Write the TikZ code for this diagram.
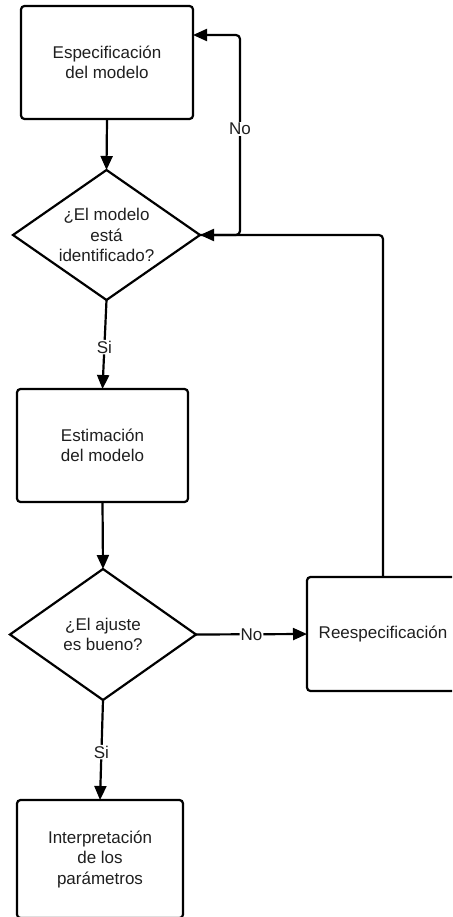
\documentclass[tikz,border=0pt]{standalone}
\usepackage{fontspec}
\setmainfont{Liberation Sans}
\usetikzlibrary{shapes.geometric,arrows.meta}
\begin{document}
\begin{tikzpicture}[x=1pt,y=-1pt,
  line width=2.2pt,
  every node/.style={font=\fontsize{17}{20.5}\selectfont, text=black!88},
  procbox/.style={draw, rounded corners=3.5pt, align=center, inner sep=0pt, outer sep=0pt},
  decision/.style={draw, diamond, aspect=1.44, align=center, inner sep=0pt, outer sep=0pt},
  arr/.style={-{Triangle[length=14pt,width=12pt]}, rounded corners=4pt},
  lbl/.style={fill=white, inner sep=1pt}
]
% page frame
\clip (0,0) rectangle (452,917);
\fill[white] (0,0) rectangle (452,917);

% process steps and decisions
\node[procbox, minimum width=172pt, minimum height=113pt] (spec) at (107,62.5) {Especificación\\del modelo};
\node[decision, minimum width=187pt, minimum height=130pt] (ident) at (106.5,235) {¿El modelo\\está\\identificado?};
\node[procbox, minimum width=171pt, minimum height=113pt] (estim) at (102.5,445.5) {Estimación\\del modelo};
\node[decision, minimum width=186pt, minimum height=131pt] (ajuste) at (103,634.5) {¿El ajuste\\es bueno?};
\node[procbox, minimum width=152pt, minimum height=114pt] (reesp) at (383,634) {Reespecificación};
\node[procbox, minimum width=166pt, minimum height=118pt] (interp) at (100,859) {Interpretación\\de los\\parámetros};

% connectors
\coordinate (looptop) at (240,35);
\draw[arr] (spec.south) -- (ident.north);
\draw[arr] (ident.east) -| (looptop) -- (spec.east |- looptop);
\node[lbl] (no1) at (240,129) {No};
\draw[arr] (reesp.north) |- (ident.east);
\draw[arr] (ident.south) -- node[lbl, pos=0.53] (si1) {Si} (estim.north);
\draw[arr] (estim.south) -- (ajuste.north);
\draw[arr] (ajuste.east) -- node[lbl] (no2) {No} (reesp.west);
\draw[arr] (ajuste.south) -- node[lbl, pos=0.52] (si2) {Si} (interp.north);
\end{tikzpicture}
\end{document}
